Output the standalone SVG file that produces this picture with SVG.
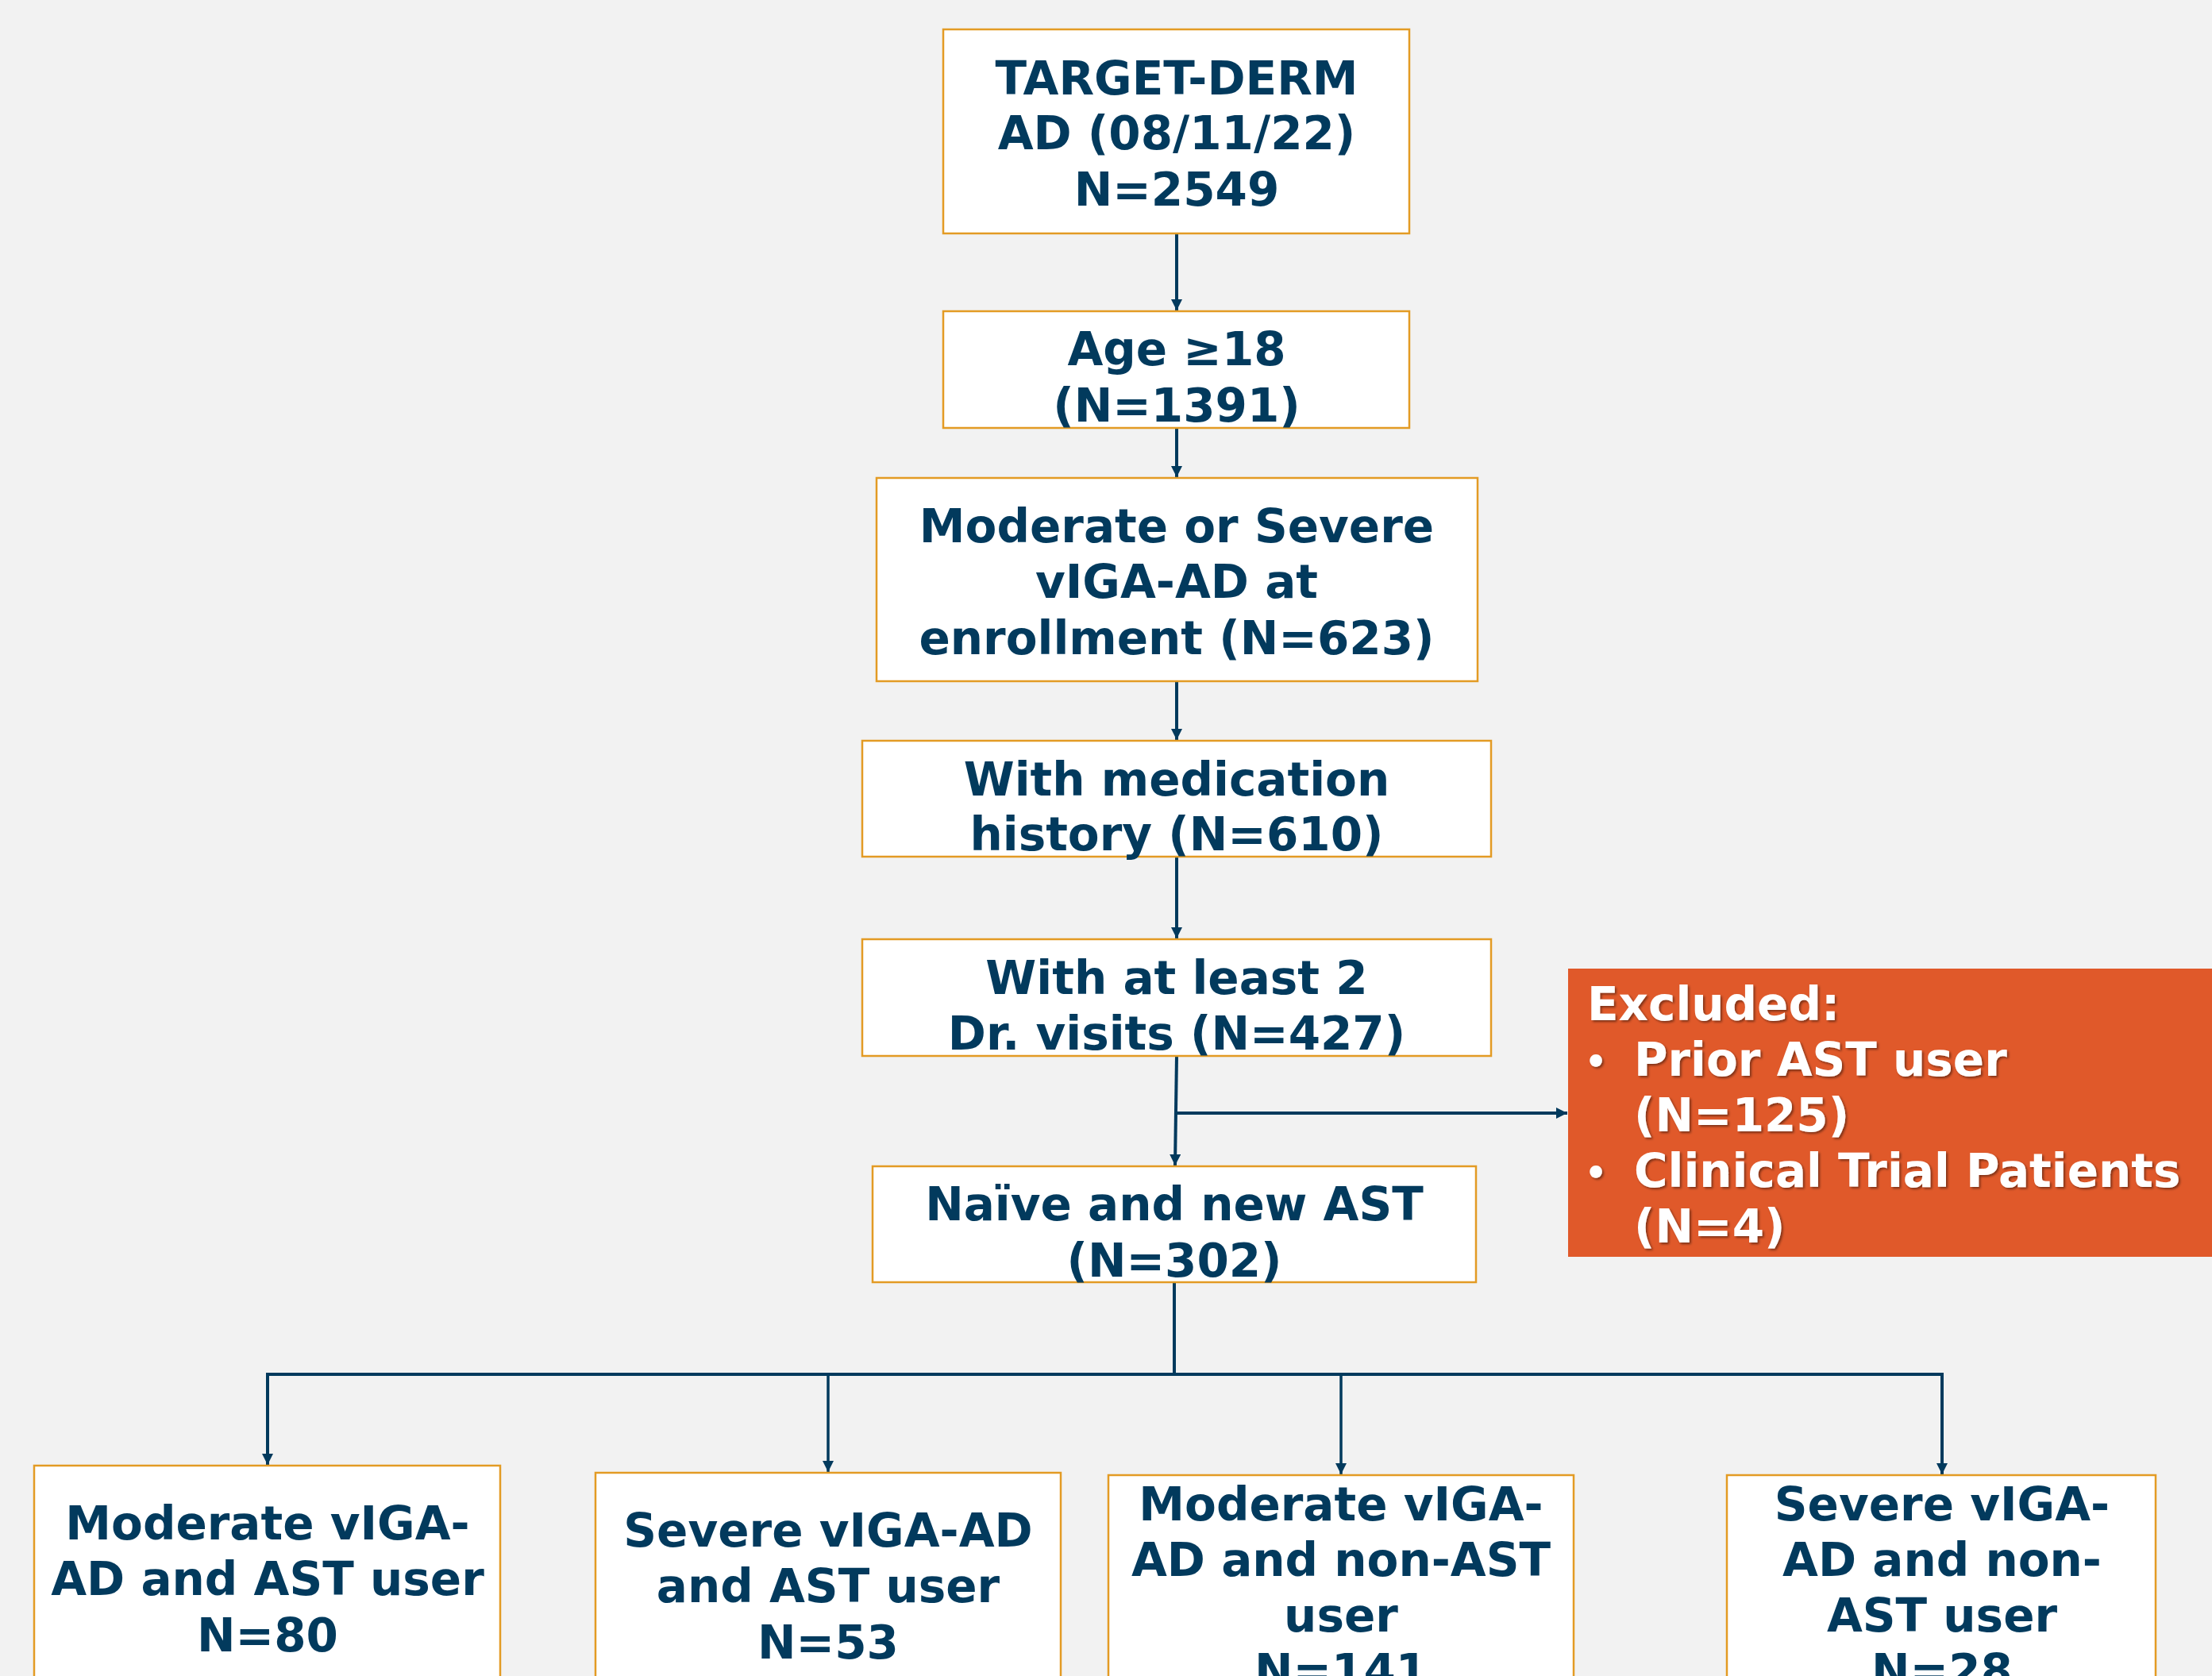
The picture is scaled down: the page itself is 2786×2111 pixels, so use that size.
<svg xmlns="http://www.w3.org/2000/svg" width="2786" height="2111" viewBox="0 0 2786 2111">
<defs>
<style>
.bx{fill:#FFFFFF;stroke:#E39B24;stroke-width:2.5}
.t{font-family:"DejaVu Sans","Verdana",sans-serif;font-weight:bold;font-size:58px;fill:#023A5D;text-anchor:middle}
.w{font-family:"DejaVu Sans","Verdana",sans-serif;font-weight:bold;font-size:58px;fill:#FFFFFF}
.c{fill:none;stroke:#023A5D;stroke-width:4}
.c3{fill:none;stroke:#023A5D;stroke-width:3.5}
</style>
<marker id="ah" viewBox="0 0 10 10" refX="10" refY="5" markerWidth="16" markerHeight="14" markerUnits="userSpaceOnUse" orient="auto">
<path d="M0,0 L10,5 L0,10 z" fill="#023A5D"/>
</marker>
<filter id="sh" x="-5%" y="-5%" width="110%" height="120%">
<feDropShadow dx="2" dy="2" stdDeviation="1.5" flood-color="#000000" flood-opacity="0.45"/>
</filter>
</defs>
<rect x="0" y="0" width="2786" height="2111" fill="#F2F2F2"/>

<g id="connectors">
<line class="c" x1="1482" y1="294" x2="1482" y2="391" marker-end="url(#ah)"/>
<line class="c" x1="1482" y1="539" x2="1482" y2="601" marker-end="url(#ah)"/>
<line class="c" x1="1482" y1="858" x2="1482" y2="932" marker-end="url(#ah)"/>
<line class="c" x1="1482" y1="1079" x2="1482" y2="1182" marker-end="url(#ah)"/>
<line class="c" x1="1482" y1="1330" x2="1480" y2="1468" marker-end="url(#ah)"/>
<line class="c" x1="1481" y1="1402" x2="1974" y2="1402" marker-end="url(#ah)"/>
<line class="c" x1="1479" y1="1615" x2="1479" y2="1731"/>
<polyline class="c" points="337,1845 337,1731 2446,1731 2446,1857" marker-end="url(#ah)"/>
<line class="c3" x1="337" y1="1731" x2="337" y2="1845" marker-end="url(#ah)"/>
<line class="c3" x1="1043" y1="1731" x2="1043" y2="1854" marker-end="url(#ah)"/>
<line class="c3" x1="1689" y1="1731" x2="1689" y2="1857" marker-end="url(#ah)"/>
</g>

<g id="n1">
<rect class="bx" x="1188" y="37" width="587" height="257"/>
<text class="t" x="1482" y="119">TARGET-DERM</text>
<text class="t" x="1482" y="188">AD (08/11/22)</text>
<text class="t" x="1482" y="259">N=2549</text>
</g>
<g id="n2">
<rect class="bx" x="1188" y="392" width="587" height="147"/>
<text class="t" x="1482" y="460">Age ≥18</text>
<text class="t" x="1482" y="531">(N=1391)</text>
</g>
<g id="n3">
<rect class="bx" x="1104" y="602" width="757" height="256"/>
<text class="t" x="1482" y="683">Moderate or Severe</text>
<text class="t" x="1482" y="753">vIGA-AD at</text>
<text class="t" x="1482" y="824">enrollment (N=623)</text>
</g>
<g id="n4">
<rect class="bx" x="1086" y="933" width="792" height="146"/>
<text class="t" x="1482" y="1002">With medication</text>
<text class="t" x="1482" y="1071">history (N=610)</text>
</g>
<g id="n5">
<rect class="bx" x="1086" y="1183" width="792" height="147"/>
<text class="t" x="1482" y="1252">With at least 2</text>
<text class="t" x="1482" y="1322">Dr. visits (N=427)</text>
</g>
<g id="n6">
<rect class="bx" x="1099" y="1469" width="760" height="146"/>
<text class="t" x="1479" y="1537">Naïve and new AST</text>
<text class="t" x="1479" y="1608">(N=302)</text>
</g>
<g id="excluded">
<rect x="1975" y="1220" width="811" height="363" fill="#E0592A"/>
<g filter="url(#sh)">
<text class="w" x="1999" y="1285">Excluded:</text>
<text class="w" x="1996" y="1352" style="font-size:44px">•</text>
<text class="w" x="2058" y="1355">Prior AST user</text>
<text class="w" x="2058" y="1425">(N=125)</text>
<text class="w" x="1996" y="1492" style="font-size:44px">•</text>
<text class="w" x="2058" y="1495">Clinical Trial Patients</text>
<text class="w" x="2058" y="1565">(N=4)</text>
</g>
</g>
<g id="n7">
<rect class="bx" x="43" y="1846" width="587" height="300"/>
<text class="t" x="337" y="1939">Moderate vIGA-</text>
<text class="t" x="337" y="2009">AD and AST user</text>
<text class="t" x="337" y="2080">N=80</text>
</g>
<g id="n8">
<rect class="bx" x="750" y="1855" width="586" height="300"/>
<text class="t" x="1043" y="1948">Severe vIGA-AD</text>
<text class="t" x="1043" y="2018">and AST user</text>
<text class="t" x="1043" y="2089">N=53</text>
</g>
<g id="n9">
<rect class="bx" x="1396" y="1858" width="586" height="300"/>
<text class="t" x="1689" y="1915">Moderate vIGA-</text>
<text class="t" x="1689" y="1985">AD and non-AST</text>
<text class="t" x="1689" y="2055">user</text>
<text class="t" x="1689" y="2125">N=141</text>
</g>
<g id="n10">
<rect class="bx" x="2175" y="1858" width="540" height="300"/>
<text class="t" x="2446" y="1915">Severe vIGA-</text>
<text class="t" x="2446" y="1985">AD and non-</text>
<text class="t" x="2446" y="2055">AST user</text>
<text class="t" x="2446" y="2125">N=28</text>
</g>
</svg>
